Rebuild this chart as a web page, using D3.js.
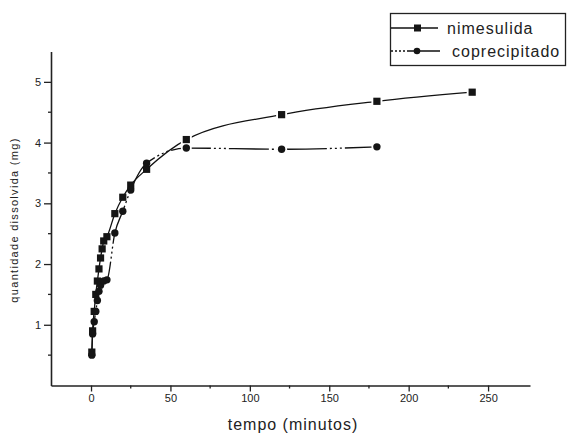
<!DOCTYPE html>
<html>
<head>
<meta charset="utf-8">
<script src="https://cdn.jsdelivr.net/npm/d3@7"></script>
<style>
  body { margin: 0; background: #fff; }
  text { font-family: "Liberation Sans", Arial, sans-serif; fill: #222; }
</style>
</head>
<body>
<div id="chart"></div>
<script>
var width = 567, height = 433;

// dados
var tNime = [0.5, 1, 2, 3, 4, 5, 6, 7, 8, 10, 15, 20, 25, 35, 60, 120, 180, 240];
var vNime = [0.55, 0.9, 1.22, 1.5, 1.72, 1.92, 2.1, 2.25, 2.38, 2.45, 2.83, 3.1, 3.3, 3.56, 4.05, 4.46, 4.68, 4.83];
var tCopr = [0.5, 1, 2, 3, 4, 5, 6, 8, 10, 15, 20, 25, 35, 60, 120, 180];
var vCopr = [0.5, 0.85, 1.05, 1.22, 1.4, 1.55, 1.65, 1.72, 1.74, 2.51, 2.87, 3.22, 3.66, 3.91, 3.89, 3.93];
var xTicks = [0, 50, 100, 150, 200, 250];
var xMinor = [25, 75, 125, 175, 225];
var yTicks = [1, 2, 3, 4, 5];
var yMinor = [0.5, 1.5, 2.5, 3.5, 4.5];
var legendNames = ["nimesulida", "coprecipitado"];

var x = d3.scaleLinear().domain([-25.2, 276.4]).range([51, 530]);
var y = d3.scaleLinear().domain([0, 5.5]).range([385.5, 51.5]);

var svg = d3.select("#chart").append("svg")
    .attr("width", width)
    .attr("height", height);

// eixos
var xAxis = d3.axisBottom(x).tickValues(xTicks).tickSize(6).tickSizeOuter(0).tickPadding(3).tickFormat(d3.format("d"));
var yAxis = d3.axisLeft(y).tickValues(yTicks).tickSize(7).tickSizeOuter(0).tickPadding(3).tickFormat(d3.format("d"));

var gx = svg.append("g").attr("transform", "translate(0," + y(0) + ")").call(xAxis);
gx.selectAll(".minor").data(xMinor).enter()
  .append("line").attr("x1", function(d) { return x(d); }).attr("x2", function(d) { return x(d); })
  .attr("y1", 0).attr("y2", 3).attr("stroke", "#222").attr("stroke-width", 1.3);

var gy = svg.append("g").attr("transform", "translate(" + x.range()[0] + ",0)").call(yAxis);
gy.selectAll(".minor").data(yMinor).enter()
  .append("line").attr("y1", function(d) { return y(d); }).attr("y2", function(d) { return y(d); })
  .attr("x1", 0).attr("x2", -3).attr("stroke", "#222").attr("stroke-width", 1.3);

svg.selectAll(".domain").attr("stroke", "#222").attr("stroke-width", 1.6);
svg.selectAll(".tick line").attr("stroke", "#222").attr("stroke-width", 1.3);
svg.selectAll(".tick text").style("font-size", "11px").style("font-family", "'Liberation Sans', Arial, sans-serif").attr("fill", "#222");

svg.append("text")
    .attr("x", 293).attr("y", 430)
    .style("text-anchor", "middle")
    .style("font-size", "16px")
    .style("letter-spacing", "1px")
    .text("tempo (minutos)");

svg.append("text")
    .attr("transform", "translate(18,220) rotate(-90)")
    .style("text-anchor", "middle")
    .style("font-size", "11px")
    .style("letter-spacing", "1.3px")
    .text("quantidade dissolvida (mg)");

// linhas
var dNime = tNime.map(function(t, i) { return {t: t, v: vNime[i]}; });
var dCopr = tCopr.map(function(t, i) { return {t: t, v: vCopr[i]}; });

var line = d3.line()
    .x(function(d) { return x(d.t); })
    .y(function(d) { return y(d.v); })
    .curve(d3.curveMonotoneX);

var copDash = "40,3,2,3,2,3,2,3";

svg.append("path").datum(dNime)
    .attr("d", line).attr("fill", "none")
    .attr("stroke", "#111").attr("stroke-width", 1.3);

svg.append("path").datum(dCopr)
    .attr("d", line).attr("fill", "none")
    .attr("stroke", "#111").attr("stroke-width", 1.3)
    .attr("stroke-dasharray", copDash);

// halos brancos em volta dos simbolos
svg.selectAll(".haloN").data(dNime.filter(function(d) { return d.t >= 60; })).enter()
  .append("rect").attr("x", function(d) { return x(d.t) - 5.5; }).attr("y", function(d) { return y(d.v) - 5.5; })
  .attr("width", 11).attr("height", 11).attr("fill", "#fff");
svg.selectAll(".haloC").data(dCopr.filter(function(d) { return d.t >= 60; })).enter()
  .append("circle").attr("cx", function(d) { return x(d.t); }).attr("cy", function(d) { return y(d.v); })
  .attr("r", 5.5).attr("fill", "#fff");

// simbolos
svg.selectAll(".sqr").data(dNime).enter()
  .append("rect")
    .attr("x", function(d) { return x(d.t) - 3.6; })
    .attr("y", function(d) { return y(d.v) - 3.6; })
    .attr("width", 7.2).attr("height", 7.2)
    .attr("fill", "#151515");

svg.selectAll(".circ").data(dCopr).enter()
  .append("circle")
    .attr("cx", function(d) { return x(d.t); })
    .attr("cy", function(d) { return y(d.v); })
    .attr("r", 3.7)
    .attr("fill", "#151515");

// legenda
var leg = svg.append("g");
leg.append("rect")
    .attr("x", 390.5).attr("y", 13.5).attr("width", 175).attr("height", 52)
    .attr("fill", "none").attr("stroke", "#222").attr("stroke-width", 1.3);

leg.append("line").attr("x1", 391).attr("x2", 438).attr("y1", 28).attr("y2", 28)
    .attr("stroke", "#111").attr("stroke-width", 1.3);
leg.append("rect").attr("x", 414).attr("y", 24.5).attr("width", 7).attr("height", 7).attr("fill", "#151515");
leg.append("text").attr("x", 447).attr("y", 33.5).style("font-size", "16px").style("letter-spacing", "1px").text(legendNames[0]);

leg.append("line").attr("x1", 391).attr("x2", 440).attr("y1", 51).attr("y2", 51)
    .attr("stroke", "#111").attr("stroke-width", 1.3).attr("stroke-dasharray", "2,2,2,2,2,2,2,2,40");
leg.append("circle").attr("cx", 417).attr("cy", 51).attr("r", 3.3).attr("fill", "#151515");
leg.append("text").attr("x", 452).attr("y", 56.5).style("font-size", "16px").style("letter-spacing", "1px").text(legendNames[1]);
</script>
</body>
</html>
